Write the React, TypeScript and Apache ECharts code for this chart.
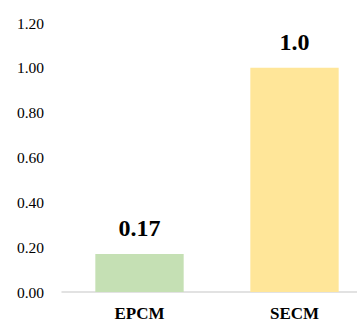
import React, { useEffect, useRef } from "react";
import * as echarts from "echarts";

const categories = ["EPCM", "SECM"];
const values = [0.17, 1.0];
const valueLabels = ["0.17", "1.0"];
const barColors = ["#C5E0B4", "#FFE699"];

const FONT = "Liberation Serif";

export default function App() {
  const ref = useRef<HTMLDivElement>(null);
  useEffect(() => {
    const chart = echarts.init(ref.current!, undefined, { renderer: "svg" });
    chart.setOption({
      animation: false,
      textStyle: { fontFamily: FONT },
      grid: {
        left: 62,
        top: 23,
        width: 310,
        height: 269,
        containLabel: false,
        outerBoundsMode: "none",
      },
      xAxis: {
        type: "category",
        data: categories,
        axisLine: { lineStyle: { color: "#D9D9D9", width: 1.5 } },
        axisTick: { show: false },
        axisLabel: {
          fontFamily: FONT,
          fontWeight: "bold",
          fontSize: 17,
          color: "#000",
          margin: 13,
        },
      },
      yAxis: {
        type: "value",
        min: 0,
        max: 1.2,
        interval: 0.2,
        splitLine: { show: false },
        axisLine: { show: false },
        axisTick: { show: false },
        axisLabel: {
          fontFamily: FONT,
          fontSize: 15.5,
          color: "#000",
          margin: 18,
          formatter: (v: number) => v.toFixed(2),
        },
      },
      series: [
        {
          type: "bar",
          barWidth: "57%",
          data: values.map((v, i) => ({
            value: v,
            itemStyle: { color: barColors[i] },
            label: { formatter: valueLabels[i] },
          })),
          label: {
            show: true,
            position: "top",
            distance: 14,
            fontFamily: FONT,
            fontWeight: "bold",
            fontSize: 24,
            color: "#000",
          },
        },
      ],
    });
    return () => chart.dispose();
  }, []);
  return (
    <div
      ref={ref}
      style={{ position: "fixed", left: 0, top: 0, width: 357, height: 322, background: "#fff", overflow: "hidden" }}
    />
  );
}
